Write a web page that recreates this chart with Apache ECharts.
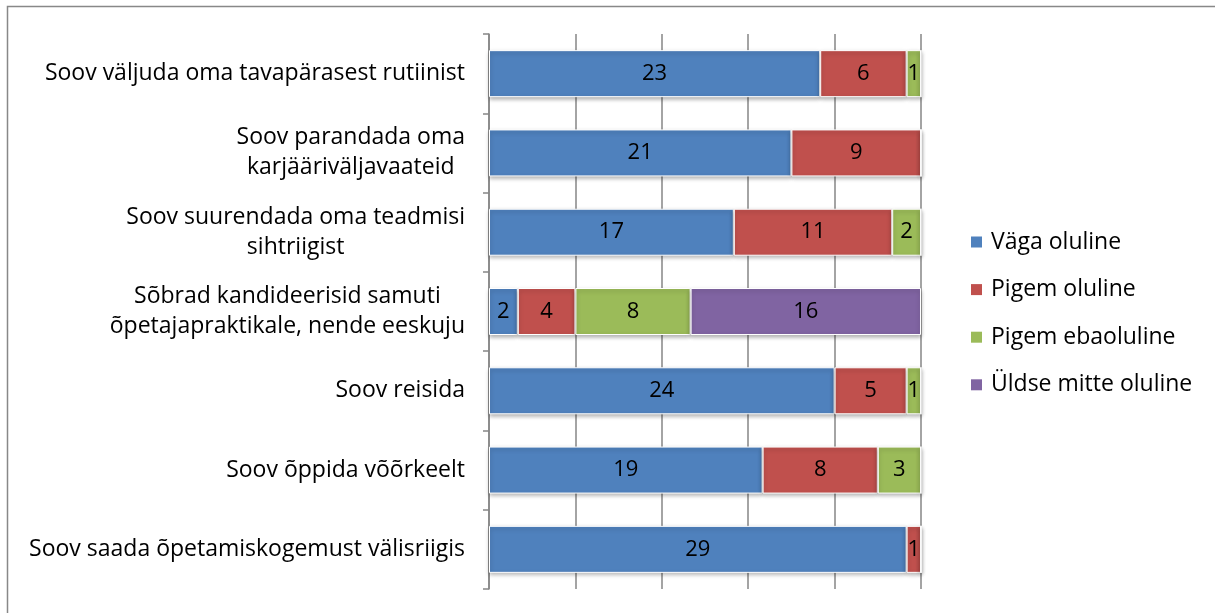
<!DOCTYPE html>
<html>
<head>
<meta charset="utf-8">
<script src="https://cdn.jsdelivr.net/npm/echarts@6/dist/echarts.min.js"></script>
<style>
  html, body { margin: 0; padding: 0; background: #fff; }
  #chart { width: 1215px; height: 613px; }
</style>
</head>
<body>
<div id="chart"></div>
<script>
// kategooriad ülevalt alla
var categories = [
  "Soov väljuda oma tavapärasest rutiinist",
  "Soov parandada oma\nkarjääriväljavaateid",
  "Soov suurendada oma teadmisi\nsihtriigist",
  "Sõbrad kandideerisid samuti\nõpetajapraktikale, nende eeskuju",
  "Soov reisida",
  "Soov õppida võõrkeelt",
  "Soov saada õpetamiskogemust välisriigis"
];
var seriesNames = ["Väga oluline", "Pigem oluline", "Pigem ebaoluline", "Üldse mitte oluline"];
var vagaOluline = [23, 21, 17, 2, 24, 19, 29];
var pigemOluline = [6, 9, 11, 4, 5, 8, 1];
var pigemEbaoluline = [1, 0, 2, 8, 1, 3, 0];
var uldseMitte = [0, 0, 0, 16, 0, 0, 0];
var colors = ["#4F81BD", "#C0504D", "#9BBB59", "#8064A2"];

var font = "Open Sans";
var fs = 23;
var myChart = echarts.init(document.getElementById("chart"));

var allData = [vagaOluline, pigemOluline, pigemEbaoluline, uldseMitte];
var series = allData.map(function (d, i) {
  return {
    name: seriesNames[i],
    type: "bar",
    stack: "kokku",
    data: d,
    barWidth: 47,
    itemStyle: {
      color: colors[i],
      borderColor: "#fff",
      borderWidth: 1,
      shadowColor: "rgba(0,0,0,0.3)",
      shadowBlur: 4,
      shadowOffsetY: 2
    },
    label: {
      show: true,
      position: "inside",
      color: "#000",
      fontFamily: font,
      fontSize: 22,
      formatter: function (p) { return p.value ? p.value : ""; }
    }
  };
});

myChart.setOption({
  animation: false,
  color: colors,
  graphic: [{
    type: "rect",
    shape: { x: 7.5, y: 6.5, width: 1230, height: 640 },
    style: { fill: "none", stroke: "#888", lineWidth: 1.5 },
    silent: true
  }],
  grid: { left: 489, right: 294, top: 34, bottom: 24, containLabel: false },
  legend: {
    orient: "vertical",
    left: 966,
    top: 225,
    icon: "rect",
    itemWidth: 11,
    itemHeight: 11,
    itemGap: 23.6,
    itemStyle: { borderWidth: 0 },
    textStyle: { fontFamily: font, fontSize: fs, lineHeight: 24, color: "#000", padding: [0, 0, 0, 4] },
    data: seriesNames
  },
  xAxis: {
    type: "value",
    min: 0,
    max: 30,
    interval: 6,
    axisLabel: { show: false },
    axisLine: { show: false },
    axisTick: { show: false },
    splitLine: { show: true, lineStyle: { color: "#868686", width: 1.5 } }
  },
  yAxis: {
    type: "category",
    inverse: true,
    data: categories,
    axisLine: { show: true, lineStyle: { color: "#868686", width: 1.5 } },
    axisTick: { show: true, length: 6, lineStyle: { color: "#868686", width: 1.5 } },
    axisLabel: {
      margin: 24,
      color: "#000",
      fontFamily: font,
      fontSize: fs,
      lineHeight: 30,
      formatter: function (v) {
        return v.split("\n").map(function (l) { return "{c|" + l + "}"; }).join("\n");
      },
      rich: {
        c: { align: "center", fontFamily: font, fontSize: fs, lineHeight: 30, color: "#000" }
      }
    }
  },
  series: series
});
</script>
</body>
</html>
